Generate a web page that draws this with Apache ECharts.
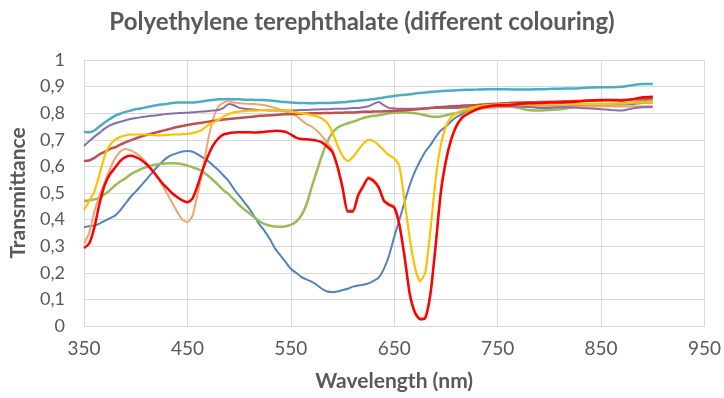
<!DOCTYPE html>
<html>
<head>
<meta charset="utf-8">
<script src="https://cdn.jsdelivr.net/npm/echarts@6/dist/echarts.min.js"></script>
<style>
html,body{margin:0;padding:0;background:#fff;}
#chart{width:724px;height:398px;}
</style>
</head>
<body>
<div id="chart"></div>
<script>
// Wavelength (nm)
const wavelengths = [
  350,355,360,365,370,375,380,385,390,395,400,405,410,415,420,425,430,435,440,445,
  450,455,460,465,470,475,480,485,490,495,500,505,510,515,520,525,530,535,540,545,
  550,555,560,565,570,575,580,585,590,595,600,605,610,615,620,625,630,635,640,645,
  650,655,660,665,670,675,680,685,690,695,700,705,710,715,720,
  730,740,750,760,770,780,790,800,810,820,830,840,850,860,870,880,890,900
];

const blueValues = [
  0.371,0.375,0.378,0.385,0.395,0.405,0.415,0.435,0.46,0.485,0.505,0.527,0.549,0.572,0.595,0.615,0.632,0.643,0.65,0.656,
  0.658,0.655,0.645,0.633,0.62,0.603,0.586,0.565,0.545,0.515,0.49,0.465,0.44,0.41,0.38,0.355,0.325,0.29,0.265,0.24,
  0.215,0.2,0.185,0.175,0.167,0.155,0.14,0.13,0.128,0.13,0.135,0.14,0.148,0.152,0.155,0.16,0.17,0.182,0.215,0.265,
  0.335,0.4,0.465,0.53,0.58,0.62,0.655,0.68,0.71,0.735,0.75,0.77,0.785,0.795,0.805,
  0.818,0.823,0.826,0.828,0.83,0.83,0.828,0.826,0.826,0.826,0.828,0.83,0.832,0.833,0.833,0.835,0.838,0.84
];

const greenValues = [
  0.471,0.472,0.476,0.482,0.495,0.51,0.528,0.543,0.555,0.57,0.58,0.59,0.597,0.603,0.607,0.61,0.612,0.612,0.611,0.608,
  0.603,0.597,0.59,0.58,0.565,0.548,0.53,0.51,0.495,0.475,0.455,0.438,0.423,0.408,0.393,0.383,0.377,0.374,0.373,0.375,
  0.38,0.392,0.415,0.455,0.52,0.58,0.64,0.69,0.725,0.745,0.755,0.762,0.768,0.775,0.782,0.787,0.79,0.792,0.796,0.8,
  0.802,0.803,0.803,0.802,0.8,0.797,0.792,0.788,0.787,0.788,0.792,0.797,0.8,0.805,0.81,
  0.818,0.822,0.825,0.826,0.82,0.812,0.81,0.812,0.815,0.82,0.825,0.83,0.832,0.832,0.835,0.84,0.845,0.847
];

const orangeValues = [
  0.31,0.35,0.43,0.49,0.54,0.59,0.63,0.655,0.665,0.66,0.65,0.635,0.615,0.59,0.565,0.535,0.5,0.465,0.43,0.4,
  0.39,0.415,0.5,0.59,0.7,0.78,0.825,0.84,0.845,0.84,0.838,0.836,0.835,0.835,0.833,0.83,0.825,0.82,0.812,0.805,
  0.798,0.79,0.775,0.76,0.75,0.735,0.715,0.69,0.665,0.605,0.525,0.435,0.435,0.495,0.53,0.56,0.55,0.525,0.475,0.46,
  0.45,0.385,0.265,0.125,0.055,0.03,0.035,0.125,0.305,0.505,0.625,0.705,0.755,0.785,0.8,
  0.815,0.82,0.822,0.823,0.824,0.825,0.825,0.826,0.827,0.826,0.825,0.825,0.826,0.826,0.825,0.826,0.826,0.826
];

const yellowValues = [
  0.436,0.47,0.505,0.57,0.64,0.68,0.7,0.71,0.716,0.72,0.72,0.72,0.72,0.718,0.717,0.717,0.718,0.72,0.72,0.721,
  0.722,0.725,0.73,0.74,0.755,0.765,0.775,0.788,0.797,0.803,0.806,0.808,0.81,0.81,0.811,0.812,0.812,0.812,0.81,0.81,
  0.808,0.803,0.8,0.797,0.793,0.788,0.78,0.765,0.73,0.68,0.64,0.62,0.635,0.66,0.685,0.7,0.695,0.68,0.66,0.642,
  0.63,0.6,0.47,0.33,0.22,0.168,0.2,0.36,0.55,0.68,0.75,0.785,0.8,0.81,0.815,
  0.825,0.83,0.832,0.833,0.833,0.832,0.833,0.835,0.836,0.835,0.835,0.835,0.835,0.836,0.838,0.84,0.84,0.842
];

const redValues = [
  0.293,0.31,0.37,0.46,0.53,0.57,0.595,0.62,0.635,0.64,0.635,0.625,0.61,0.59,0.565,0.54,0.52,0.5,0.485,0.472,
  0.465,0.48,0.53,0.59,0.64,0.68,0.705,0.72,0.725,0.727,0.728,0.728,0.728,0.727,0.728,0.73,0.732,0.734,0.733,0.73,
  0.72,0.708,0.703,0.702,0.7,0.697,0.69,0.675,0.655,0.6,0.52,0.43,0.43,0.49,0.525,0.555,0.545,0.52,0.47,0.455,
  0.445,0.38,0.26,0.12,0.05,0.025,0.03,0.12,0.3,0.5,0.62,0.7,0.75,0.78,0.795,
  0.815,0.825,0.83,0.83,0.835,0.837,0.838,0.84,0.84,0.842,0.845,0.848,0.85,0.85,0.848,0.852,0.86,0.862
];

const purpleValues = [
  0.677,0.695,0.712,0.726,0.742,0.754,0.762,0.768,0.773,0.778,0.782,0.785,0.788,0.79,0.792,0.795,0.797,0.799,0.8,0.801,
  0.802,0.804,0.805,0.806,0.808,0.81,0.812,0.82,0.835,0.83,0.82,0.817,0.815,0.813,0.812,0.811,0.81,0.81,0.81,0.81,
  0.81,0.811,0.812,0.812,0.813,0.814,0.815,0.815,0.816,0.817,0.817,0.818,0.82,0.82,0.822,0.826,0.835,0.842,0.83,0.82,
  0.818,0.817,0.817,0.817,0.817,0.818,0.818,0.819,0.82,0.82,0.82,0.82,0.82,0.821,0.822,
  0.823,0.825,0.826,0.826,0.825,0.823,0.82,0.82,0.822,0.822,0.82,0.818,0.815,0.812,0.81,0.818,0.822,0.823
];

const darkRedValues = [
  0.62,0.622,0.632,0.645,0.655,0.665,0.672,0.682,0.69,0.698,0.705,0.712,0.718,0.723,0.728,0.733,0.738,0.743,0.748,0.752,
  0.756,0.759,0.762,0.765,0.768,0.771,0.774,0.776,0.778,0.78,0.782,0.784,0.786,0.788,0.79,0.791,0.792,0.793,0.795,0.796,
  0.797,0.798,0.798,0.799,0.8,0.8,0.8,0.801,0.801,0.802,0.802,0.803,0.803,0.804,0.805,0.805,0.806,0.806,0.807,0.808,
  0.809,0.81,0.811,0.812,0.814,0.816,0.818,0.82,0.822,0.823,0.824,0.826,0.827,0.828,0.829,
  0.831,0.834,0.836,0.838,0.84,0.841,0.842,0.843,0.844,0.845,0.846,0.847,0.848,0.849,0.85,0.852,0.853,0.855
];

const cyanValues = [
  0.73,0.728,0.735,0.75,0.765,0.778,0.79,0.798,0.805,0.81,0.815,0.818,0.822,0.826,0.83,0.833,0.835,0.838,0.84,0.84,
  0.84,0.84,0.842,0.845,0.848,0.85,0.852,0.852,0.853,0.852,0.852,0.851,0.851,0.85,0.85,0.849,0.848,0.846,0.843,0.842,
  0.84,0.839,0.838,0.838,0.837,0.838,0.838,0.838,0.839,0.84,0.841,0.843,0.845,0.847,0.849,0.851,0.853,0.856,0.859,0.862,
  0.865,0.867,0.869,0.871,0.874,0.876,0.878,0.88,0.882,0.883,0.884,0.885,0.886,0.887,0.888,
  0.889,0.89,0.89,0.89,0.889,0.889,0.89,0.891,0.892,0.893,0.894,0.897,0.898,0.898,0.899,0.905,0.91,0.91
];

const xTickValues = [350,450,550,650,750,850,950];

const seriesDefs = [
  {name:'Blue', values: blueValues, color:'#5083c1', width:2},
  {name:'Green', values: greenValues, color:'#9bbb59', width:2.5},
  {name:'Orange', values: orangeValues, color:'#f4a46a', width:2},
  {name:'Purple', values: purpleValues, color:'#8a6cae', width:2},
  {name:'Cyan', values: cyanValues, color:'#4bacc6', width:2.5},
  {name:'DarkRed', values: darkRedValues, color:'#c0504d', width:2.5},
  {name:'Yellow', values: yellowValues, color:'#ffc000', width:2.2},
  {name:'Red', values: redValues, color:'#ff0000', width:2.5}
];

const FONT = 'Lato, "Open Sans", sans-serif';
const chart = echarts.init(document.getElementById('chart'), null, {renderer:'canvas'});
chart.setOption({
  animation: false,
  backgroundColor: '#ffffff',
  title: {
    text: 'Polyethylene terephthalate (different colouring)',
    left: 'center',
    top: 5,
    textStyle: {fontFamily: FONT, fontWeight: 'bold', fontSize: 24, color: '#595959'}
  },
  grid: {left: 84, right: 14, top: 60, bottom: 72, containLabel: false},
  xAxis: {
    type: 'value',
    min: 350, max: 950,
    name: 'Wavelength (nm)',
    nameLocation: 'middle',
    nameGap: 45,
    nameTextStyle: {fontFamily: FONT, fontWeight: 'bold', fontSize: 21, color: '#595959'},
    axisLine: {show: true, lineStyle: {color: '#d9d9d9', width: 1}},
    axisTick: {show: false, customValues: xTickValues},
    axisLabel: {customValues: xTickValues, margin: 13, fontFamily: FONT, fontSize: 19, color: '#595959'},
    splitLine: {show: true, lineStyle: {color: '#d9d9d9', width: 1}}
  },
  yAxis: {
    type: 'value',
    min: 0, max: 1, interval: 0.1,
    name: 'Transmittance',
    nameLocation: 'middle',
    nameGap: 52,
    nameTextStyle: {fontFamily: FONT, fontWeight: 'bold', fontSize: 21, color: '#595959'},
    axisLine: {show: true, lineStyle: {color: '#d9d9d9', width: 1}},
    axisTick: {show: false},
    axisLabel: {
      margin: 19, fontFamily: FONT, fontSize: 18, color: '#595959',
      formatter: v => String(+v.toFixed(1)).replace('.', ',')
    },
    splitLine: {show: true, lineStyle: {color: '#d9d9d9', width: 1}}
  },
  series: seriesDefs.map(d => ({
    name: d.name,
    type: 'line',
    data: wavelengths.map((w, i) => [w, d.values[i]]),
    showSymbol: false,
    symbol: 'none',
    smooth: 0.2,
    lineStyle: {color: d.color, width: d.width},
    itemStyle: {color: d.color}
  }))
});
</script>
</body>
</html>
